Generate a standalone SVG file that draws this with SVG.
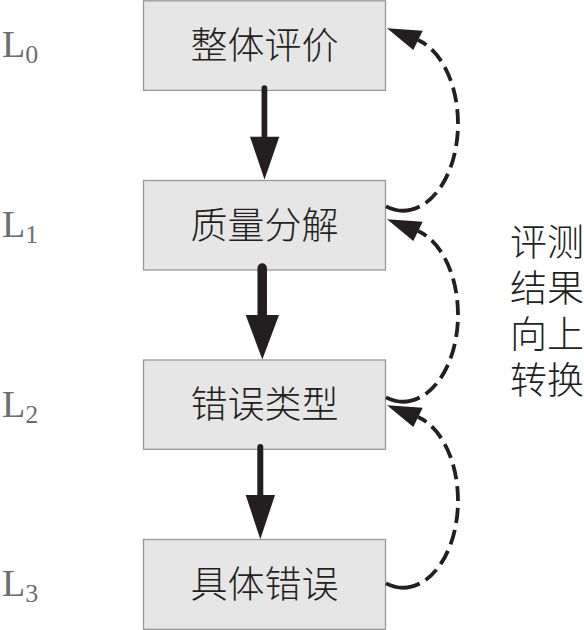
<svg xmlns="http://www.w3.org/2000/svg" xmlns:xlink="http://www.w3.org/1999/xlink" width="584" height="630" viewBox="0 0 584 630">
<style>
.box{fill:#e6e6e6;stroke:#999999;stroke-width:1.3}
.cn{font-family:"Noto Sans CJK SC",sans-serif;font-size:37px;font-weight:300;fill:#231f20}
.ctr{text-anchor:middle}
.lv{font-family:"Liberation Serif",serif;font-size:38px;fill:#6d6e71}
.sub{font-size:26px}
.shaft{stroke:#231f20;stroke-linecap:round;fill:none}
.head{fill:#231f20}
.fb{fill:none;stroke:#231f20;stroke-width:3.8;stroke-dasharray:35 7 15 7 15 7 15 7 15 7 15 7 15 7 15 7 15 7 40}
</style>
<defs>
<g id="feedback">
<path class="fb" d="M386 206.4 A55 87 0 0 0 458 123.7 A55 87 0 0 0 418 40"/>
<polygon class="head" points="387,28.3 422.7,30.7 413.3,50"/>
</g>
</defs>
<g id="levels">
<text class="lv" x="2" y="57">L<tspan class="sub" dy="6">0</tspan></text>
<text class="lv" x="2" y="237">L<tspan class="sub" dy="6">1</tspan></text>
<text class="lv" x="2" y="417">L<tspan class="sub" dy="6">2</tspan></text>
<text class="lv" x="2" y="596">L<tspan class="sub" dy="6">3</tspan></text>
</g>
<g id="node-overall">
<rect class="box" x="143.5" y="0.8" width="242" height="89.6"/>
<text class="cn ctr" x="264.5" y="59">整体评价</text>
</g>
<g id="node-quality">
<rect class="box" x="143.5" y="180.5" width="242" height="89.5"/>
<text class="cn ctr" x="264.5" y="239">质量分解</text>
</g>
<g id="node-errortype">
<rect class="box" x="143.5" y="360" width="242" height="89.3"/>
<text class="cn ctr" x="264.5" y="418">错误类型</text>
</g>
<g id="node-specific">
<rect class="box" x="143.5" y="539.5" width="242" height="89.8"/>
<text class="cn ctr" x="264.5" y="598">具体错误</text>
</g>
<g id="connectors">
<line class="shaft" x1="264.4" y1="88" x2="264.4" y2="140" stroke-width="5.7"/>
<polygon class="head" points="250,136.7 279.3,136.7 264.5,179.5"/>
<line class="shaft" x1="262.2" y1="268" x2="262.2" y2="318" stroke-width="9.5"/>
<polygon class="head" points="245.7,315 279,315 262.3,359.5"/>
<line class="shaft" x1="260.3" y1="447" x2="260.3" y2="498" stroke-width="6"/>
<polygon class="head" points="245.7,495 275,495 260.3,539.3"/>
<use xlink:href="#feedback"/>
<use xlink:href="#feedback" transform="translate(0,191)"/>
<use xlink:href="#feedback" transform="translate(0,377)"/>
</g>
<g id="side-label">
<text class="cn" x="510" y="256">评测<tspan x="510" dy="46">结果</tspan><tspan x="510" dy="46">向上</tspan><tspan x="510" dy="46">转换</tspan></text>
</g>
</svg>
